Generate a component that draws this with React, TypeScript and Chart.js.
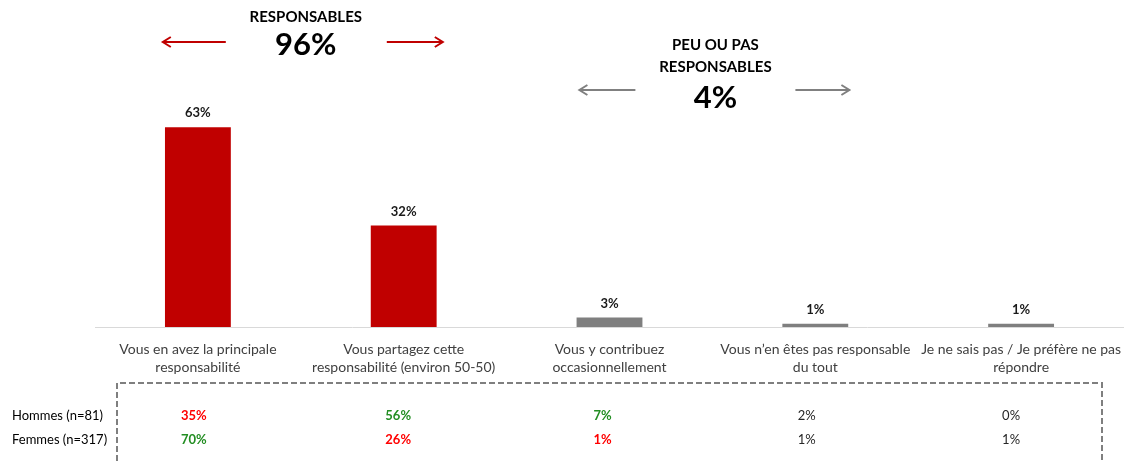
import React, { useEffect, useRef } from "react";
import { Chart, registerables } from "chart.js";

Chart.register(...registerables);

const categories: string[][] = [
  ["Vous en avez la principale", "responsabilité"],
  ["Vous partagez cette", "responsabilité (environ 50-50)"],
  ["Vous y contribuez", "occasionnellement"],
  ["Vous n’en êtes pas responsable", "du tout"],
  ["Je ne sais pas / Je préfère ne pas", "répondre"],
];
const totalValues = [63, 32, 3, 1, 1];
const barColors = ["#C00000", "#C00000", "#7F7F7F", "#7F7F7F", "#7F7F7F"];

const rowLabels = ["Hommes (n=81)", "Femmes (n=317)"];
const hommesValues = [35, 56, 7, 2, 0];
const femmesValues = [70, 26, 1, 1, 1];
const hommesColors = ["#FF0000", "#238E23", "#238E23", "#262626", "#262626"];
const femmesColors = ["#238E23", "#FF0000", "#FF0000", "#262626", "#262626"];
const hommesBold = [true, true, true, false, false];
const femmesBold = [true, true, true, false, false];

const groupTitles = [["RESPONSABLES"], ["PEU OU PAS", "RESPONSABLES"]];
const groupValues = [96, 4];
const groupColors = ["#C00000", "#808080"];
const groupBetween = [[0, 1], [2, 3]];

const FONT = "Lato, 'Liberation Sans', sans-serif";

function drawArrow(ctx: CanvasRenderingContext2D, x1: number, x2: number, y: number, color: string) {
  ctx.save();
  ctx.strokeStyle = color;
  ctx.lineWidth = 2;
  ctx.beginPath();
  ctx.moveTo(x1, y);
  ctx.lineTo(x2, y);
  const dir = x2 > x1 ? 1 : -1;
  ctx.moveTo(x2 - dir * 8, y - 5);
  ctx.lineTo(x2, y);
  ctx.lineTo(x2 - dir * 8, y + 5);
  ctx.stroke();
  ctx.restore();
}

const overlayPlugin = {
  id: "overlay",
  afterDatasetsDraw(chart: any) {
    const ctx: CanvasRenderingContext2D = chart.ctx;
    const meta = chart.getDatasetMeta(0);
    ctx.save();
    ctx.fillStyle = "#1a1a1a";
    ctx.font = `bold 13px ${FONT}`;
    ctx.textAlign = "center";
    ctx.textBaseline = "middle";
    meta.data.forEach((bar: any, i: number) => {
      ctx.fillText(totalValues[i] + "%", bar.x, bar.y - 14);
    });

    const xs = chart.scales.x;
    const layout = [
      { dx: 5, titleY: 17, valY: 45, arrowY: 42, left: [80, 143], right: [81, 137] },
      { dx: 3, titleY: 45, valY: 98, arrowY: 90, left: [80, 136], right: [80, 134] },
    ];
    groupTitles.forEach((lines, g) => {
      const [a, b] = groupBetween[g];
      const L = layout[g];
      const cx = (xs.getPixelForValue(a) + xs.getPixelForValue(b)) / 2 + L.dx;
      ctx.fillStyle = "#000000";
      ctx.font = `bold 15px ${FONT}`;
      lines.forEach((t, k) => ctx.fillText(t, cx, L.titleY + k * 22));
      ctx.font = `bold 31px ${FONT}`;
      ctx.fillText(groupValues[g] + "%", cx, L.valY);
      drawArrow(ctx, cx - L.left[0], cx - L.left[1], L.arrowY, groupColors[g]);
      drawArrow(ctx, cx + L.right[0], cx + L.right[1], L.arrowY, groupColors[g]);
    });

    ctx.strokeStyle = "#7F7F7F";
    ctx.lineWidth = 2;
    ctx.setLineDash([6, 3]);
    ctx.beginPath();
    ctx.moveTo(117, 470);
    ctx.lineTo(117, 383);
    ctx.lineTo(1102, 383);
    ctx.lineTo(1102, 470);
    ctx.stroke();
    ctx.setLineDash([]);

    const rowY = [416, 440];
    ctx.textAlign = "left";
    ctx.fillStyle = "#000000";
    ctx.font = `13px ${FONT}`;
    rowLabels.forEach((l, r) => ctx.fillText(l, 12, rowY[r]));
    ctx.textAlign = "center";
    const rows = [
      [hommesValues, hommesColors, hommesBold],
      [femmesValues, femmesColors, femmesBold],
    ] as any[];
    rows.forEach(([vals, cols, bolds], r) => {
      (vals as number[]).forEach((v, i) => {
        const x = xs.getPixelForValue(i) - 4 - i * 1.5;
        ctx.fillStyle = cols[i];
        ctx.font = `${bolds[i] ? "bold " : ""}13px ${FONT}`;
        ctx.fillText(v + "%", x, rowY[r]);
      });
    });
    ctx.restore();
  },
};

export default function App() {
  const ref = useRef<HTMLCanvasElement>(null);
  useEffect(() => {
    if (!ref.current) return;
    const chart = new Chart(ref.current, {
      type: "bar",
      data: {
        labels: categories as any,
        datasets: [
          {
            data: totalValues,
            backgroundColor: barColors,
            categoryPercentage: 1,
            barPercentage: 0.32,
          },
        ],
      },
      options: {
        animation: false,
        responsive: false,
        maintainAspectRatio: false,
        layout: { padding: { left: 95, right: 0, top: 10, bottom: 0 } },
        plugins: { legend: { display: false }, tooltip: { enabled: false } },
        scales: {
          x: {
            grid: { display: false },
            border: { display: true, color: "#D9D9D9", width: 1 },
            ticks: {
              color: "#404040",
              font: { family: FONT, size: 14, lineHeight: 1.3 },
              padding: 5,
              maxRotation: 0,
              autoSkip: false,
            },
            afterFit: (scale: any) => {
              scale.height = 135;
              scale.paddingLeft = 0;
              scale.paddingRight = 0;
            },
          },
          y: { display: false, min: 0, max: 100 },
        },
      },
      plugins: [overlayPlugin],
    });
    return () => chart.destroy();
  }, []);
  return (
    <div style={{ position: "fixed", left: 0, top: 0, width: 1124, height: 462, background: "#fff" }}>
      <canvas ref={ref} width={1124} height={462} style={{ width: 1124, height: 462 }} />
    </div>
  );
}
